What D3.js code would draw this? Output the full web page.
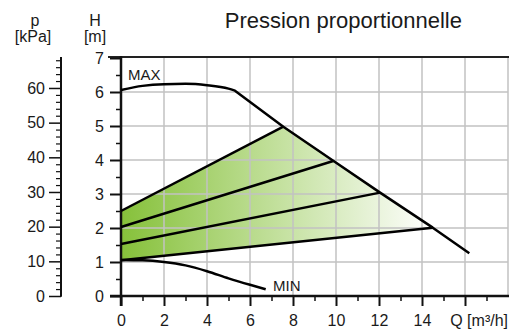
<!DOCTYPE html>
<html>
<head>
<meta charset="utf-8">
<script src="https://cdn.jsdelivr.net/npm/d3@7"></script>
<style>
  html, body { margin: 0; padding: 0; background: #fff; }
  svg { display: block; font-family: "Liberation Sans", Arial, sans-serif; }
</style>
</head>
<body>
<svg id="chart" width="509" height="329"></svg>
<script>
// ---- data ----
const title = "Pression proportionnelle";
const qTicks = [0, 2, 4, 6, 8, 10, 12, 14];
const qMinorTicks = [1, 3, 5, 7, 9, 11, 13, 15, 17];
const qGrid = [2, 4, 6, 8, 10, 12, 14, 16, 18];
const hTicks = [0, 1, 2, 3, 4, 5, 6, 7];
const hMinorTicks = [0.5, 1.5, 2.5, 3.5, 4.5, 5.5, 6.5];
const hGrid = [1, 2, 3, 4, 5, 6];
const pTicks = [0, 10, 20, 30, 40, 50, 60];
const pMinorTicks = [2,4,6,8,12,14,16,18,22,24,26,28,32,34,36,38,42,44,46,48,52,54,56,58,62,64,66,68];

// MAX curve: rounded hump then straight descent
const maxHumpQ = [0, 1, 2, 3, 4, 5, 5.3];
const maxHumpH = [6.06, 6.18, 6.23, 6.24, 6.2, 6.1, 6.04];
const maxDropQ = [5.3, 7.55, 9.87, 12.05, 14.5, 16.2];
const maxDropH = [6.04, 4.98, 3.98, 3.04, 2.01, 1.26];
const minQ = [0, 1, 2, 3, 4, 5, 6, 6.73];
const minH = [1.06, 1.05, 1.0, 0.9, 0.73, 0.52, 0.33, 0.2];

const propStartH = [2.5, 2.03, 1.53, 1.05];
const propEndQ = [7.55, 9.87, 12.05, 14.5];
const propEndH = [4.98, 3.97, 3.04, 2.01];

// ---- layout ----
const svg = d3.select("#chart");
const x = d3.scaleLinear().domain([0, 18]).range([121, 508]);
const y = d3.scaleLinear().domain([0, 7]).range([296, 58]);
const KPA_PER_M = 9.80665;
const yp = d3.scaleLinear().domain([0, 7 * KPA_PER_M]).range([296, 58]);

const gridColor = "#c2c2c2";
const textColor = "#1a1a1a";
const FS = 16;

// gradient
const defs = svg.append("defs");
const grad = defs.append("linearGradient")
  .attr("id", "g1").attr("gradientUnits", "userSpaceOnUse")
  .attr("x1", x(0)).attr("x2", x(14.5)).attr("y1", 0).attr("y2", 0);
grad.append("stop").attr("offset", "0").attr("stop-color", "#86c13a");
grad.append("stop").attr("offset", "1").attr("stop-color", "#ffffff");

// fill polygon
const lineGen = d3.line().x(d => x(d[0])).y(d => y(d[1]));
const last = propStartH.length - 1;
const poly = [[0, propStartH[0]], [propEndQ[0], propEndH[0]]];
maxDropQ.forEach((q, i) => { if (q > propEndQ[0] && q < propEndQ[last]) poly.push([q, maxDropH[i]]); });
poly.push([propEndQ[last], propEndH[last]]);
poly.push([0, propStartH[last]]);
svg.append("path").attr("d", lineGen(poly) + "Z").attr("fill", "url(#g1)");

// grid
const gridG = svg.append("g").attr("class", "gridlines");
gridG.selectAll("line.v").data(qGrid).join("line").attr("class", "v")
  .attr("x1", d => x(d)).attr("x2", d => x(d))
  .attr("y1", y(0)).attr("y2", y(7))
  .style("stroke", gridColor).style("stroke-width", "1.5px");
gridG.selectAll("line.h").data(hGrid).join("line").attr("class", "h")
  .attr("x1", x(0)).attr("x2", x(18))
  .attr("y1", d => y(d)).attr("y2", d => y(d))
  .style("stroke", gridColor).style("stroke-width", "1.5px");

// top frame line
svg.append("line").attr("x1", 108).attr("x2", 509).attr("y1", y(7) - 1).attr("y2", y(7) - 1)
  .attr("stroke", "#222").attr("stroke-width", 2);

// axes
function styleAxis(g, w) {
  g.selectAll("path.domain").remove();
  g.selectAll("line").attr("stroke", "#111").attr("stroke-width", w);
  g.selectAll("text").attr("fill", textColor).attr("font-size", FS)
    .attr("font-family", '"Liberation Sans", Arial, sans-serif');
}
// H axis
svg.append("g").attr("transform", `translate(${x(0)},0)`)
  .call(d3.axisLeft(y).tickValues(hTicks).tickSize(11).tickPadding(6).tickFormat(d3.format("d")))
  .call(g => styleAxis(g, 2));
svg.append("g").attr("transform", `translate(${x(0)},0)`)
  .call(d3.axisLeft(y).tickValues(hMinorTicks).tickSize(5).tickFormat(""))
  .call(g => styleAxis(g, 1.5));
svg.append("line").attr("x1", x(0)).attr("x2", x(0)).attr("y1", y(7) - 2).attr("y2", y(0) + 10)
  .attr("stroke", "#111").attr("stroke-width", 2.5);

// p axis
const pX = 61;
svg.append("g").attr("transform", `translate(${pX},0)`)
  .call(d3.axisLeft(yp).tickValues(pTicks).tickSize(12).tickPadding(4).tickFormat(d3.format("d")))
  .call(g => styleAxis(g, 1.5));
svg.append("g").attr("transform", `translate(${pX},0)`)
  .call(d3.axisLeft(yp).tickValues(pMinorTicks).tickSize(5).tickFormat(""))
  .call(g => styleAxis(g, 1.2));
svg.append("line").attr("x1", pX).attr("x2", pX).attr("y1", y(7) - 1).attr("y2", y(0) + 0.8)
  .attr("stroke", "#111").attr("stroke-width", 2);

// Q axis
svg.append("g").attr("transform", `translate(0,${y(0)})`)
  .call(d3.axisBottom(x).tickValues(qTicks.concat([16])).tickSize(10).tickPadding(9)
    .tickFormat(d => d === 16 ? "" : d3.format("d")(d)))
  .call(g => styleAxis(g, 2));
svg.append("g").attr("transform", `translate(0,${y(0)})`)
  .call(d3.axisBottom(x).tickValues(qMinorTicks).tickSize(5).tickFormat(""))
  .call(g => styleAxis(g, 1.5));
svg.append("line").attr("x1", 110).attr("x2", 509).attr("y1", y(0)).attr("y2", y(0))
  .attr("stroke", "#111").attr("stroke-width", 2.5);
svg.append("text").attr("x", 508).attr("y", 326).attr("text-anchor", "end")
  .attr("font-size", FS).attr("fill", textColor).text("Q [m³/h]");

// curves
const smooth = d3.line().x(d => x(d[0])).y(d => y(d[1])).curve(d3.curveMonotoneX);
const humpPath = smooth(maxHumpQ.map((q, i) => [q, maxHumpH[i]]));
const dropPath = lineGen(maxDropQ.map((q, i) => [q, maxDropH[i]])).replace(/^M/, "L");
svg.append("path").attr("d", humpPath + dropPath)
  .attr("fill", "none").attr("stroke", "#000").attr("stroke-width", 2.5).attr("stroke-linejoin", "round");
svg.append("path").attr("d", smooth(minQ.map((q, i) => [q, minH[i]])))
  .attr("fill", "none").attr("stroke", "#000").attr("stroke-width", 2.5);
propStartH.forEach((h, i) => {
  svg.append("path").attr("d", lineGen([[0, h], [propEndQ[i], propEndH[i]]]))
    .attr("fill", "none").attr("stroke", "#000").attr("stroke-width", 2.5);
});

// labels
svg.append("text").attr("x", 128).attr("y", 80).attr("font-size", 15).attr("fill", textColor).text("MAX");
svg.append("text").attr("x", 273).attr("y", 291).attr("font-size", 15).attr("fill", textColor).text("MIN");

svg.append("text").attr("x", 35).attr("y", 26).attr("text-anchor", "middle").attr("font-size", FS).attr("fill", textColor).text("p");
svg.append("text").attr("x", 33).attr("y", 42).attr("text-anchor", "middle").attr("font-size", FS).attr("fill", textColor).text("[kPa]");
svg.append("text").attr("x", 95).attr("y", 26).attr("text-anchor", "middle").attr("font-size", FS).attr("fill", textColor).text("H");
svg.append("text").attr("x", 95).attr("y", 42).attr("text-anchor", "middle").attr("font-size", FS).attr("fill", textColor).text("[m]");

svg.append("text").attr("x", 462).attr("y", 28).attr("text-anchor", "end")
  .attr("font-size", 22).attr("fill", textColor).text(title);
</script>
</body>
</html>
